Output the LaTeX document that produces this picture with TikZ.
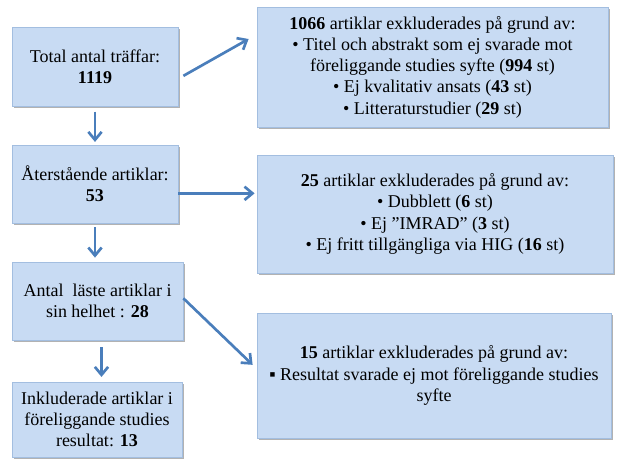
\documentclass[tikz,border=0pt]{standalone}
\usepackage{fontspec}
\setmainfont{Liberation Serif}
\usetikzlibrary{arrows.meta, positioning, calc, shadows}
\definecolor{boxblue}{RGB}{200, 219, 243}
\definecolor{edgeblue}{RGB}{163, 190, 224}
\definecolor{arrblue}{RGB}{74, 126, 187}

\begin{document}
\begin{tikzpicture}[
  x=0.75pt, y=-0.75pt,
  fbox/.style={draw=edgeblue, fill=boxblue, line width=0.6pt, align=center, inner sep=2pt,
    font=\fontsize{13.5pt}{15.9pt}\selectfont,
    drop shadow={shadow xshift=1.2pt, shadow yshift=-1.6pt, fill=black, opacity=0.3}},
  arr/.style={draw=arrblue, line width=2pt, -{Straight Barb[length=6pt, width=10pt]}}
]
  \useasboundingbox (0,0) rectangle (629,462);
  % left column
  \node[fbox, minimum width=124.5pt, minimum height=59.25pt] (total) at (95, 66.5) {Total antal träffar:\\ \textbf{1119}};
  \node[fbox, minimum width=124.5pt, minimum height=58.5pt] (remaining) at (95, 184) {Återstående artiklar:\\ \textbf{53}};
  \node[fbox, minimum width=128.25pt, minimum height=58.5pt] (read) at (97.5, 301) {Antal\ \ läste artiklar i\\ sin helhet : \textbf{28}};
  \node[fbox, minimum width=127.5pt, minimum height=56.25pt] (included) at (97, 419.5) {Inkluderade artiklar i\\ föreliggande studies\\ resultat: \textbf{13}};
  % right column
  \node[fbox, minimum width=263.25pt, minimum height=90pt] (excl1) at (432.5, 67) {\textbf{1066} artiklar exkluderades på grund av:\\ • Titel och abstrakt som ej svarade mot\\ föreliggande studies syfte (\textbf{994} st)\\ • Ej kvalitativ ansats (\textbf{43} st)\\ • Litteraturstudier (\textbf{29} st)};
  \node[fbox, minimum width=267pt, minimum height=88.5pt] (excl2) at (435, 214) {\textbf{25} artiklar exkluderades på grund av:\\ • Dubblett (\textbf{6} st)\\ • Ej ”IMRAD” (\textbf{3} st)\\ • Ej fritt tillgängliga via HIG (\textbf{16} st)};
  \node[fbox, minimum width=265.5pt, minimum height=93.75pt] (excl3) at (434, 375.5) {\textbf{15} artiklar exkluderades på grund av:\\ ▪ Resultat svarade ej mot föreliggande studies\\ syfte};
  % arrows
  \draw[arr, shorten <=4pt, shorten >=2pt] (total.south) -- (remaining.north);
  \draw[arr, shorten <=3pt, shorten >=3pt] (remaining.south) -- (remaining.south |- read.north);
  \draw[arr, shorten <=5pt, shorten >=3.5pt] ([xshift=3pt]read.south) -- ([xshift=3pt]read.south |- included.north);
  \draw[arr] ([xshift=3.75pt, yshift=-7pt]total.east) -- ([xshift=-6pt, yshift=21pt]excl1.west);
  \draw[arr, shorten >=1.5pt] ([yshift=-7pt]remaining.east) -- ([yshift=-7pt]remaining.east -| excl2.west);
  \draw[arr] ([yshift=2pt]read.east) -- ([xshift=-3pt, yshift=8pt]excl3.west);
\end{tikzpicture}
\end{document}
